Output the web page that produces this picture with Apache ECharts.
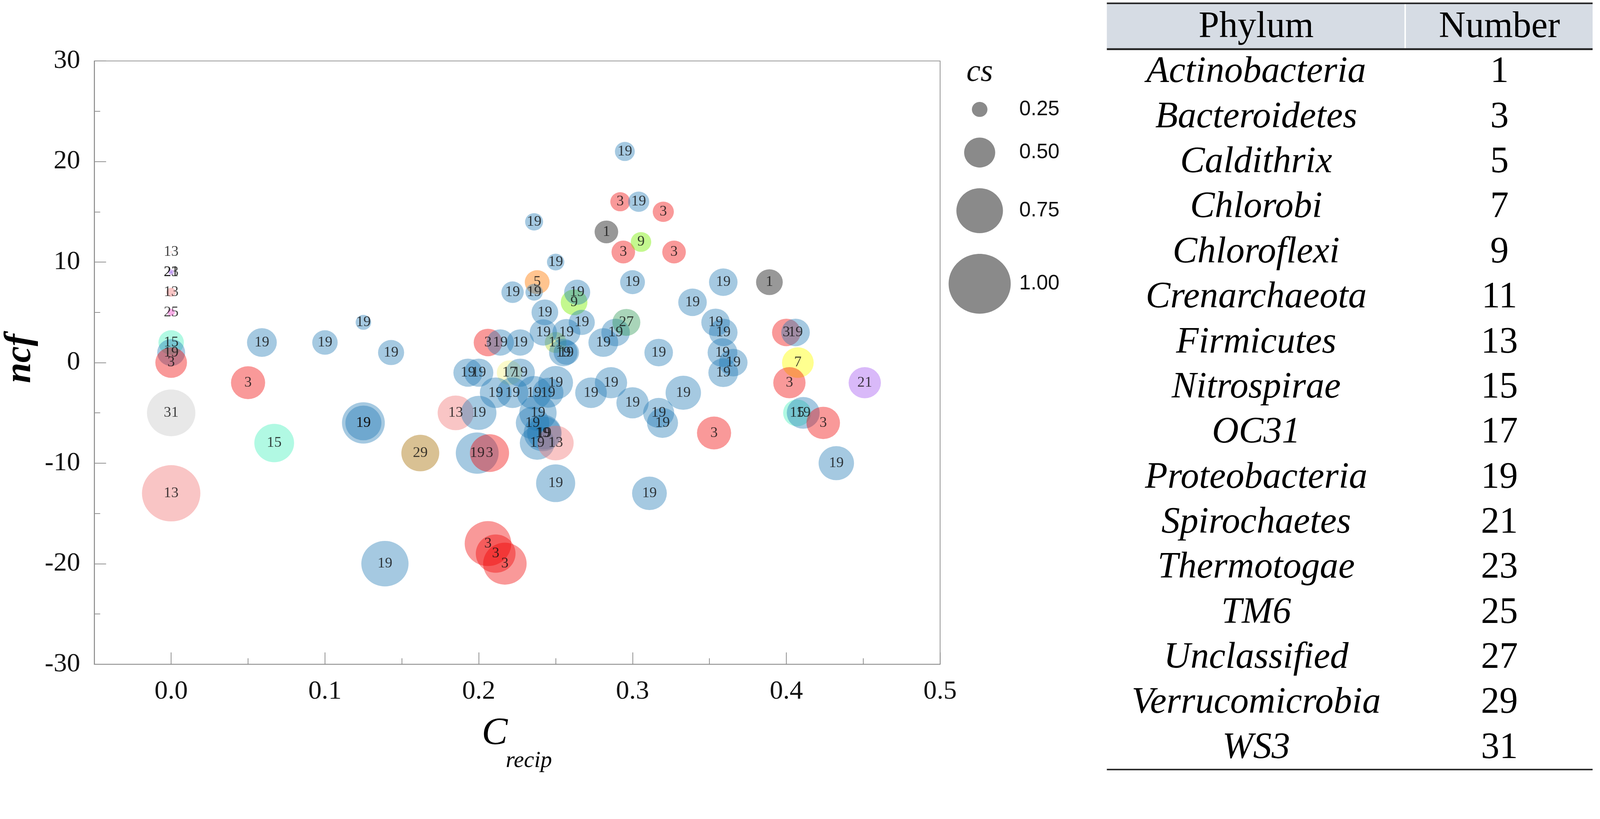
<!DOCTYPE html>
<html>
<head>
<meta charset="utf-8">
<script src="https://cdn.jsdelivr.net/npm/echarts@6/dist/echarts.min.js"></script>
<style>
  html, body { margin: 0; padding: 0; background: #fff; overflow: hidden; }
</style>
</head>
<body>
<div id="chart"></div>
<script>
// phylum number of each bubble (label), C_recip, ncf and cs
const phylumNum = [13, 21, 23, 13, 25, 15, 19, 3, 31, 13,
  3, 19, 15, 19, 19, 19, 19, 19, 19, 29,
  13, 19, 19, 19, 17, 19, 19, 19, 19, 19,
  19, 19, 3, 19, 19, 19, 19, 19, 13, 19,
  3, 3, 3, 3, 19, 19, 11, 19, 19, 19,
  19, 19, 9, 19, 19, 5, 19, 19, 19, 19,
  19, 19, 27, 19, 1, 3, 9, 3, 3, 19,
  3, 19, 19, 19, 19, 19, 19, 19, 19, 19,
  3, 19, 19, 19, 19, 19, 19, 19, 1, 3,
  19, 7, 3, 15, 19, 3, 19, 21];
const crecip = [0, 0, 0, 0, 0, 0, 0, 0, 0, 0,
  0.050, 0.059, 0.067, 0.100, 0.125, 0.143, 0.125, 0.125, 0.139, 0.162,
  0.185, 0.200, 0.193, 0.200, 0.220, 0.227, 0.211, 0.222, 0.236, 0.245,
  0.250, 0.199, 0.207, 0.2385, 0.235, 0.2416, 0.2425, 0.238, 0.250, 0.250,
  0.206, 0.211, 0.217, 0.206, 0.214, 0.227, 0.250, 0.255, 0.257, 0.242,
  0.257, 0.243, 0.262, 0.267, 0.222, 0.238, 0.236, 0.264, 0.250, 0.236,
  0.281, 0.289, 0.296, 0.300, 0.283, 0.294, 0.3055, 0.327, 0.292, 0.304,
  0.320, 0.295, 0.273, 0.286, 0.300, 0.317, 0.3195, 0.311, 0.317, 0.333,
  0.353, 0.339, 0.359, 0.354, 0.359, 0.3585, 0.3655, 0.359, 0.389, 0.400,
  0.406, 0.4075, 0.402, 0.407, 0.411, 0.424, 0.4325, 0.451];
const ncf = [11, 9, 9, 7, 5, 2, 1, 0, -5, -13,
  -2, 2, -8, 2, 4, 1, -6, -6, -20, -9,
  -5, -5, -1, -1, -1, -1, -3, -3, -3, -3,
  -2, -9, -9, -5, -6, -7, -7, -8, -8, -12,
  -18, -19, -20, 2, 2, 2, 2, 1, 1, 3,
  3, 5, 6, 4, 7, 8, 7, 7, 10, 14,
  2, 3, 4, 8, 13, 11, 12, 11, 16, 16,
  15, 21, -3, -2, -4, -5, -6, -13, 1, -3,
  -7, 6, 8, 4, 3, 1, 0, -1, 8, 3,
  3, 0, -2, -5, -5, -6, -10, -2];
const cs = [0.02, 0.09, 0.03, 0.15, 0.12, 0.41, 0.45, 0.51, 0.78, 0.94,
  0.55, 0.48, 0.64, 0.41, 0.25, 0.42, 0.69, 0.58, 0.76, 0.61,
  0.58, 0.57, 0.47, 0.47, 0.41, 0.47, 0.51, 0.51, 0.56, 0.50,
  0.56, 0.69, 0.63, 0.60, 0.54, 0.61, 0.55, 0.56, 0.58, 0.63,
  0.75, 0.64, 0.70, 0.46, 0.44, 0.44, 0.35, 0.46, 0.41, 0.44,
  0.45, 0.43, 0.43, 0.42, 0.36, 0.40, 0.28, 0.42, 0.28, 0.29,
  0.48, 0.46, 0.45, 0.40, 0.38, 0.38, 0.33, 0.38, 0.32, 0.34,
  0.34, 0.32, 0.51, 0.52, 0.52, 0.50, 0.50, 0.56, 0.46, 0.57,
  0.55, 0.46, 0.46, 0.46, 0.46, 0.48, 0.46, 0.48, 0.43, 0.46,
  0.46, 0.51, 0.52, 0.45, 0.53, 0.54, 0.57, 0.52];

// axis ticks
const xMajorTicks = [0, 0.1, 0.2, 0.3, 0.4, 0.5];
const xMinorTicks = [0.05, 0.15, 0.25, 0.35, 0.45];

// size key
const legendCs = [0.25, 0.5, 0.75, 1.0];

// table on the right
const phylumNames = ['Actinobacteria', 'Bacteroidetes', 'Caldithrix', 'Chlorobi', 'Chloroflexi',
  'Crenarchaeota', 'Firmicutes', 'Nitrospirae', 'OC31', 'Proteobacteria', 'Spirochaetes',
  'Thermotogae', 'TM6', 'Unclassified', 'Verrucomicrobia', 'WS3'];
const phylumNumbers = [1, 3, 5, 7, 9, 11, 13, 15, 17, 19, 21, 23, 25, 27, 29, 31];

const phylumColor = {
  1: 'rgba(40,40,40,0.6)',
  3: 'rgba(240,0,0,0.5)',
  5: 'rgba(255,120,0,0.55)',
  7: 'rgba(255,255,0,0.55)',
  9: 'rgba(120,240,0,0.55)',
  11: 'rgba(170,210,40,0.5)',
  13: 'rgba(240,110,110,0.5)',
  15: 'rgba(60,240,185,0.5)',
  17: 'rgba(245,240,110,0.45)',
  19: 'rgba(31,119,180,0.5)',
  21: 'rgba(160,80,240,0.5)',
  23: 'rgba(120,90,220,0.6)',
  25: 'rgba(240,70,200,0.55)',
  27: 'rgba(40,150,80,0.5)',
  29: 'rgba(175,125,30,0.6)',
  31: 'rgba(190,190,190,0.45)',
};

const SERIF = '"Liberation Serif", "Times New Roman", serif';
const SANS = '"Liberation Sans", Arial, sans-serif';
const AXIS_COLOR = '#8c8c8c';

// the layout is laid out for 4328 x 2097; scale it to the real window
const W = 4328;
const H = 2097;
const K = Math.min((window.innerWidth || W) / W, (window.innerHeight || H) / H);
const px = v => v * K;
const font = (style, size, family) => `${style} ${px(size)}px ${family}`;

const el = document.getElementById('chart');
el.style.width = px(W) + 'px';
el.style.height = px(H) + 'px';

// bubble diameter (px) for cs = 1
const SIZE_W = 168;
const SIZE_H = 162;

const data = phylumNum.map((n, i) => [crecip[i], ncf[i], cs[i], n]);

// size key and table are plain graphics
const graphics = [];

graphics.push({
  type: 'text', x: px(2650), y: px(196),
  style: { text: 'cs', font: font('italic', 86, SERIF), fill: '#111', textAlign: 'center', textVerticalAlign: 'middle' },
});
let ly = 296;
let prevR = 0;
legendCs.forEach((v, i) => {
  const rh = SIZE_H * v / 2;
  ly = i === 0 ? 296 : ly + prevR + 56 + rh;
  graphics.push({
    type: 'ellipse',
    shape: { cx: px(2650), cy: px(ly), rx: px(SIZE_W * v / 2), ry: px(rh) },
    style: { fill: '#8a8a8a' },
  });
  graphics.push({
    type: 'text', x: px(2757), y: px(ly),
    style: { text: v.toFixed(2), font: font('normal', 56, SANS), fill: '#111', textAlign: 'left', textVerticalAlign: 'middle' },
  });
  prevR = rh;
});

// table
const tLeft = 2994;
const tRight = 4308;
const divX = 3801;
const colPhylum = 3398;
const colNum = 4056;
const hline = (y, w) => ({ type: 'line', shape: { x1: px(tLeft), y1: px(y), x2: px(tRight), y2: px(y) }, style: { stroke: '#222', lineWidth: px(w) } });
graphics.push({ type: 'rect', shape: { x: px(tLeft), y: px(10), width: px(tRight - tLeft), height: px(122) }, style: { fill: '#d6dce4' } });
graphics.push({ type: 'line', shape: { x1: px(divX), y1: px(10), x2: px(divX), y2: px(132) }, style: { stroke: '#fff', lineWidth: px(4) } });
graphics.push(hline(9, 4));
graphics.push(hline(133, 5));
graphics.push(hline(2082, 4));
const cellText = (x, y, text, style) => ({
  type: 'text', x: px(x), y: px(y),
  style: { text: text, font: font(style, 100, SERIF), fill: '#000', textAlign: 'center', textVerticalAlign: 'middle' },
});
graphics.push(cellText(colPhylum, 74, 'Phylum', 'normal'));
graphics.push(cellText(colNum, 74, 'Number', 'normal'));
phylumNames.forEach((name, i) => {
  const y = 196 + i * 121.9;
  graphics.push(cellText(colPhylum, y, name, 'italic'));
  graphics.push(cellText(colNum, y, String(phylumNumbers[i]), 'normal'));
});

// axis titles
graphics.push({
  type: 'text', x: px(56), y: px(970), rotation: Math.PI / 2,
  style: { text: 'ncf', font: font('italic bold', 100, SERIF), fill: '#000', textAlign: 'center', textVerticalAlign: 'middle' },
});
graphics.push({
  type: 'text', x: px(1373), y: px(2038),
  style: { text: 'C', font: font('italic', 105, SERIF), fill: '#000', textAlign: 'right', textVerticalAlign: 'bottom' },
});
graphics.push({
  type: 'text', x: px(1368), y: px(2090),
  style: { text: 'recip', font: font('italic', 62, SERIF), fill: '#000', textAlign: 'left', textVerticalAlign: 'bottom' },
});

const chart = echarts.init(el, null, { renderer: 'canvas' });

const tickStyle = { color: AXIS_COLOR, width: px(2) };

const option = {
  backgroundColor: '#fff',
  animation: false,
  grid: {
    left: px(255), top: px(165), width: px(2288), height: px(1632),
    show: true, borderColor: AXIS_COLOR, borderWidth: px(2), backgroundColor: 'transparent',
  },
  xAxis: [
    {
      type: 'value', min: -0.05, max: 0.5,
      axisLine: { show: true, onZero: false, lineStyle: tickStyle },
      axisTick: { show: true, inside: true, length: px(32), customValues: xMajorTicks, lineStyle: tickStyle },
      axisLabel: {
        customValues: xMajorTicks, margin: px(38), color: '#111',
        fontFamily: SERIF, fontSize: px(72),
        formatter: v => v.toFixed(1),
      },
      splitLine: { show: false },
    },
    {
      type: 'value', min: -0.05, max: 0.5, position: 'bottom',
      axisLine: { show: false, onZero: false },
      axisTick: { show: true, inside: true, length: px(16), customValues: xMinorTicks, lineStyle: tickStyle },
      axisLabel: { show: false },
      splitLine: { show: false },
    },
  ],
  yAxis: {
    type: 'value', min: -30, max: 30, interval: 10,
    axisLine: { show: true, onZero: false, lineStyle: tickStyle },
    axisTick: { show: true, inside: true, length: px(32), lineStyle: tickStyle },
    minorTick: { show: true, splitNumber: 2, length: px(16), lineStyle: tickStyle },
    axisLabel: { margin: px(38), color: '#111', fontFamily: SERIF, fontSize: px(72) },
    splitLine: { show: false },
    minorSplitLine: { show: false },
  },
  series: [
    {
      type: 'scatter',
      xAxisIndex: 0,
      data: data,
      symbol: 'circle',
      symbolSize: val => [px(SIZE_W * val[2]), px(SIZE_H * val[2])],
      itemStyle: {
        color: p => phylumColor[p.value[3]],
      },
      label: {
        show: true,
        position: 'inside',
        formatter: p => String(p.value[3]),
        color: '#111',
        fontFamily: SERIF,
        fontSize: px(40),
      },
      emphasis: { disabled: true },
    },
  ],
  graphic: graphics,
};

chart.setOption(option);
</script>
</body>
</html>
